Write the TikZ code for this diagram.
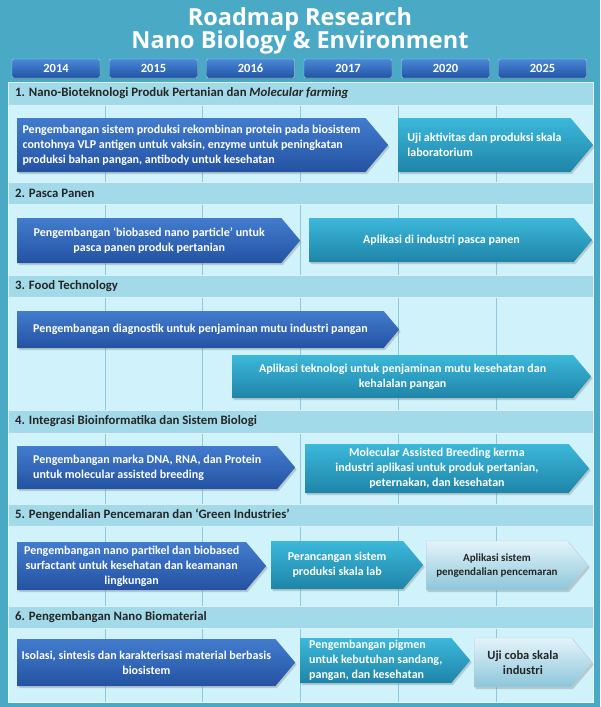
\documentclass[tikz,border=0pt]{standalone}
\usepackage{fontspec}
\setmainfont{Carlito}
\newfontfamily\titlefont{Open Sans}
\usetikzlibrary{shapes.symbols, shadows}

\begin{document}
\begin{tikzpicture}[x=1pt, y=-1pt,
    yearbox/.style={draw=white!55!yeartop, rounded corners=1.5pt, top color=yeartop, bottom color=yearbot,
        minimum width=88pt, minimum height=19pt, inner sep=0pt, text=white,
        font=\bfseries\fontsize{12.5}{14}\selectfont,
        drop shadow={opacity=.3, shadow xshift=1pt, shadow yshift=-1.5pt}},
    headband/.style={fill=headcol, draw=white!60!headcol, line width=.6pt},
    headtext/.style={anchor=west, inner sep=0pt, text=black!85, font=\bfseries\fontsize{12.8}{15}\selectfont},
    chevron/.style={shape=signal, signal to=east, signal from=nowhere, signal pointer angle=100,
        anchor=west, inner xsep=4pt, inner ysep=2pt, font=\bfseries\fontsize{12}{15}\selectfont,
        drop shadow={opacity=.35, shadow xshift=1.5pt, shadow yshift=-2pt}},
    bluearrow/.style={chevron, top color=bluetop, bottom color=bluebot, text=white},
    tealarrow/.style={chevron, top color=tealtop, bottom color=tealbot, text=white},
    palearrow/.style={chevron, top color=paletop, bottom color=palebot, draw=gray!45, text=black!85},
]

%my colors
\definecolor{bgteal}{RGB}{74,170,198}
\definecolor{rowcol}{RGB}{208,242,250}
\definecolor{headcol}{RGB}{162,218,233}
\definecolor{gridcol}{RGB}{140,200,222}
\definecolor{yeartop}{RGB}{74,136,214}
\definecolor{yearbot}{RGB}{32,84,164}
\definecolor{bluetop}{RGB}{66,124,206}
\definecolor{bluebot}{RGB}{36,82,162}
\definecolor{tealtop}{RGB}{60,184,218}
\definecolor{tealbot}{RGB}{30,132,168}
\definecolor{paletop}{RGB}{228,244,250}
\definecolor{palebot}{RGB}{140,198,218}

    % Background and title
    \fill[bgteal] (0,0) rectangle (600,707);
    \node[anchor=base, text=white, font=\titlefont\bfseries\fontsize{23.5}{28}\selectfont] (title1) at (300,25) {Roadmap Research};
    \node[anchor=base, text=white, font=\titlefont\bfseries\fontsize{23.5}{28}\selectfont] (title2) at (300,48) {Nano Biology \& Environment};

    % Year boxes
    \node[yearbox] (y2014) at (56,68.5) {2014};
    \node[yearbox] (y2015) at (153.5,68.5) {2015};
    \node[yearbox] (y2016) at (250.5,68.5) {2016};
    \node[yearbox] (y2017) at (348,68.5) {2017};
    \node[yearbox] (y2020) at (445.5,68.5) {2020};
    \node[yearbox] (y2025) at (542.5,68.5) {2025};

    % Main panel with the year columns
    \fill[rowcol] (8,82) rectangle (593,702);
    \draw[gridcol, line width=.8pt] (105,82) -- (105,702);
    \draw[gridcol, line width=.8pt] (202,82) -- (202,702);
    \draw[gridcol, line width=.8pt] (300,82) -- (300,702);
    \draw[gridcol, line width=.8pt] (398,82) -- (398,702);
    \draw[gridcol, line width=.8pt] (496,82) -- (496,702);
    \draw[white!50!rowcol, line width=.8pt] (8,82) rectangle (593,702);

    % Header bands
    \draw[headband] (8,82) rectangle (593,105);
    \draw[headband] (8,182) rectangle (593,204);
    \draw[headband] (8,275) rectangle (593,297);
    \draw[headband] (8,410) rectangle (593,433);
    \draw[headband] (8,504) rectangle (593,526);
    \draw[headband] (8,606) rectangle (593,628);
    \node[headtext] (h1) at (15,93.5) {1. Nano-Bioteknologi Produk Pertanian dan \textit{Molecular farming}};
    \node[headtext] (h2) at (15,193) {2. Pasca Panen};
    \node[headtext] (h3) at (15,286) {3. Food Technology};
    \node[headtext] (h4) at (15,421.5) {4. Integrasi Bioinformatika dan Sistem Biologi};
    \node[headtext] (h5) at (15,515) {5. Pengendalian Pencemaran dan ‘Green Industries’};
    \node[headtext] (h6) at (15,617) {6. Pengembangan Nano Biomaterial};

    % 1. Nano-Bioteknologi
    \node[bluearrow, minimum width=371pt, minimum height=54pt, align=left] (a1) at (17,145)
        {Pengembangan sistem produksi rekombinan protein pada biosistem\\ contohnya VLP antigen untuk vaksin, enzyme untuk  peningkatan\\ produksi bahan pangan, antibody  untuk kesehatan};
    \node[tealarrow, minimum width=195pt, minimum height=54pt, align=left] (b1) at (398,145)
        {Uji aktivitas dan produksi skala\\ laboratorium};

    % 2. Pasca Panen
    \node[bluearrow, minimum width=283pt, minimum height=45pt, align=center] (a2) at (17,240.5)
        {Pengembangan ‘biobased  nano particle’ untuk\\ pasca panen produk pertanian};
    \node[tealarrow, minimum width=283pt, minimum height=44pt, align=center] (b2) at (309,240)
        {Aplikasi di industri pasca panen};

    % 3. Food Technology
    \node[bluearrow, minimum width=382pt, minimum height=37pt, align=center] (a3) at (17,329.5)
        {Pengembangan diagnostik untuk penjaminan mutu industri pangan};
    \node[tealarrow, minimum width=359pt, minimum height=43pt, align=center] (b3) at (232,376.5)
        {Aplikasi teknologi untuk penjaminan mutu kesehatan dan\\ kehalalan pangan};

    % 4. Bioinformatika
    \node[bluearrow, minimum width=278pt, minimum height=43pt, align=left] (a4) at (17,467.5)
        {Pengembangan marka DNA, RNA, dan Protein\\ untuk molecular assisted breeding};
    \node[tealarrow, minimum width=284pt, minimum height=49pt, align=center] (b4) at (305,468.5)
        {Molecular Assisted  Breeding kerma\\ industri aplikasi untuk produk pertanian,\\ peternakan, dan kesehatan};

    % 5. Green Industries
    \node[bluearrow, minimum width=249pt, minimum height=48pt, align=center] (a5) at (17,566)
        {Pengembangan  nano partikel dan biobased\\ surfactant untuk kesehatan dan keamanan\\ lingkungan};
    \node[tealarrow, minimum width=152pt, minimum height=48pt, align=center] (b5) at (271,565)
        {Perancangan sistem\\ produksi skala lab};
    \node[palearrow, minimum width=162pt, minimum height=49pt, align=center, font=\bfseries\fontsize{11}{14}\selectfont] (c5) at (426,565.5)
        {Aplikasi sistem\\ pengendalian  pencemaran};

    % 6. Nano Biomaterial
    \node[bluearrow, minimum width=278pt, minimum height=47pt, align=center] (a6) at (17,662.5)
        {Isolasi, sintesis  dan karakterisasi material berbasis\\ biosistem};
    \node[tealarrow, minimum width=170pt, minimum height=45pt, align=left] (b6) at (300,660.5)
        {Pengembangan pigmen\\ untuk kebutuhan sandang,\\ pangan, dan kesehatan};
    \node[palearrow, minimum width=118pt, minimum height=49pt, align=center, font=\bfseries\fontsize{12.5}{15.5}\selectfont] (c6) at (474,662.5)
        {Uji coba skala\\ industri};

\end{tikzpicture}
\end{document}
